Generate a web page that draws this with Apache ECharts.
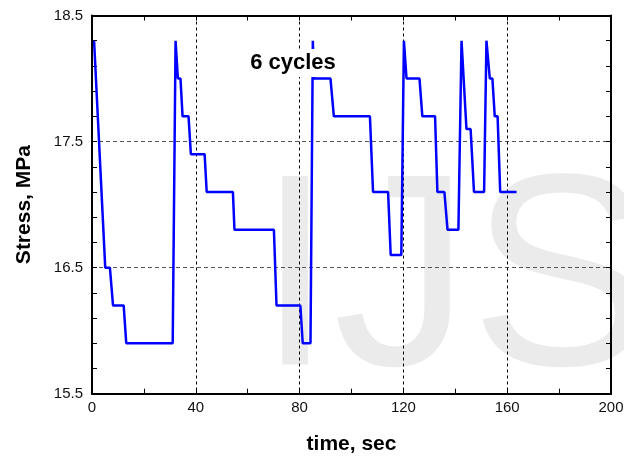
<!DOCTYPE html>
<html>
<head>
<meta charset="utf-8">
<script src="https://cdn.jsdelivr.net/npm/echarts@6/dist/echarts.min.js"></script>
<style>
  html, body { margin: 0; padding: 0; background: #fff; }
  #chart { width: 624px; height: 459px; }
</style>
</head>
<body>
<div id="chart"></div>
<script>
// time, sec
const timeSec = [0.8, 1.4, 5.1, 6.9, 8.1, 12.2, 13.2, 31.1, 32.2, 33.1, 34.1, 34.9, 37.2, 38.1,
  43.4, 44.2, 54.3, 54.9, 70.1, 71.1, 80.3, 81.2, 84.2, 85.1, 85.5, 91.9, 93.2, 107.1, 108.3,
  114.1, 115.1, 119.2, 120.2, 121.2, 126.2, 127.3, 132.2, 133.1, 135.8, 137, 141.2, 142.4,
  144.3, 145.9, 147.2, 151.1, 152, 153.3, 154.3, 155.2, 156.3, 157.3, 163.6];
// Stress, MPa
const stressMPa = [18.3, 18.3, 16.5, 16.5, 16.2, 16.2, 15.9, 15.9, 18.3, 18.0, 18.0, 17.7, 17.7, 17.4,
  17.4, 17.1, 17.1, 16.8, 16.8, 16.2, 16.2, 15.9, 15.9, 18.3, 18.0, 18.0, 17.7, 17.7, 17.1,
  17.1, 16.6, 16.6, 18.3, 18.0, 18.0, 17.7, 17.7, 17.1, 17.1, 16.8, 16.8, 18.3,
  17.6, 17.6, 17.1, 17.1, 18.3, 18.0, 18.0, 17.7, 17.7, 17.1, 17.1];

const yLabels = [15.5, 16.5, 17.5, 18.5];
const yGrid = [16.5, 17.5];
const yTicks = [];
for (let i = 0; i <= 15; i++) yTicks.push(+(15.5 + i * 0.2).toFixed(1));

const chart = echarts.init(document.getElementById('chart'));
const font = '"Liberation Sans", Arial, sans-serif';

chart.setOption({
  animation: false,
  backgroundColor: '#fff',
  grid: { left: 92, right: 13, top: 15.5, bottom: 65.3, outerBoundsMode: 'none' },
  xAxis: [{
    type: 'value', position: 'bottom', min: 0, max: 200, interval: 40,
    name: 'time, sec', nameLocation: 'middle', nameGap: 40,
    nameTextStyle: { fontFamily: font, fontWeight: 'bold', fontSize: 21, color: '#000' },
    axisLine: { lineStyle: { color: '#000', width: 2 } },
    axisTick: { inside: true, length: 5, lineStyle: { color: '#000' } },
    minorTick: { show: true, splitNumber: 2, length: 5, lineStyle: { color: '#000' } },
    axisLabel: { fontFamily: font, fontSize: 15, color: '#111', margin: 7 },
    splitLine: { show: true, lineStyle: { color: '#000', type: [3, 3], width: 1 } }
  }, {
    type: 'value', position: 'top', min: 0, max: 200, interval: 40,
    axisLine: { lineStyle: { color: '#000', width: 2 } },
    axisTick: { inside: true, length: 5, lineStyle: { color: '#000' } },
    minorTick: { show: true, splitNumber: 2, length: 5, lineStyle: { color: '#000' } },
    axisLabel: { show: false },
    splitLine: { show: false }
  }],
  yAxis: [{
    type: 'value', position: 'left', min: 15.5, max: 18.5,
    name: 'Stress, MPa', nameLocation: 'middle', nameGap: 57,
    nameTextStyle: { fontFamily: font, fontWeight: 'bold', fontSize: 21, color: '#000' },
    axisLine: { show: true, lineStyle: { color: '#000', width: 2 } },
    axisTick: { show: true, inside: true, length: 5, customValues: yTicks, lineStyle: { color: '#000' } },
    axisLabel: { fontFamily: font, fontSize: 15, color: '#111', margin: 9, customValues: yLabels,
      formatter: v => v.toFixed(1) },
    splitLine: { show: false }
  }, {
    type: 'value', position: 'left', min: 15.5, max: 18.5,
    axisLine: { show: false },
    axisTick: { show: false, customValues: yGrid },
    axisLabel: { show: false },
    splitLine: { show: true, lineStyle: { color: '#555', type: [4, 3], width: 1.2 } }
  }, {
    type: 'value', position: 'right', min: 15.5, max: 18.5,
    axisLine: { show: true, lineStyle: { color: '#000', width: 2 } },
    axisTick: { show: true, inside: true, length: 5, customValues: yTicks, lineStyle: { color: '#000' } },
    axisLabel: { show: false },
    splitLine: { show: false }
  }],
  graphic: [{
    type: 'text', z: -10, silent: true,
    x: 257, y: 289,
    style: { text: 'IJS', font: 'normal 274px ' + font, fill: '#ebebeb', verticalAlign: 'middle', align: 'left' }
  }, {
    type: 'text', z: 100, silent: true,
    x: 293, y: 63,
    style: { text: '6 cycles', font: 'bold 22px ' + font, fill: '#000', align: 'center', verticalAlign: 'middle',
      backgroundColor: '#fff', padding: [3, 2] }
  }],
  series: [{
    type: 'line',
    xAxisIndex: 0, yAxisIndex: 0,
    data: timeSec.map((t, i) => [t, stressMPa[i]]),
    symbol: 'none',
    lineStyle: { color: '#0000ff', width: 2.5 },
    z: 5
  }]
});
</script>
</body>
</html>
